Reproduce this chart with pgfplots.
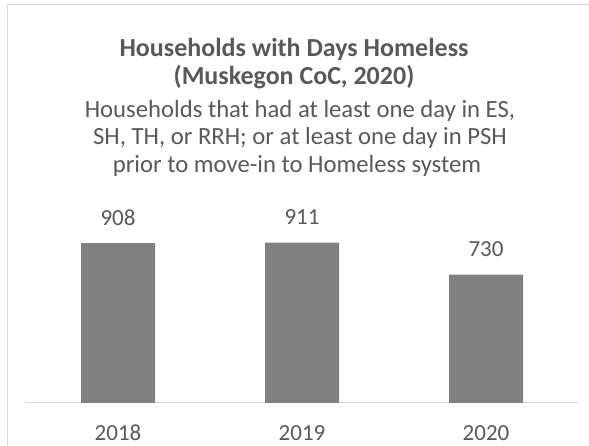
\documentclass[border=0pt]{standalone}
\usepackage{fontspec}
\setmainfont{Carlito}
\usepackage{pgfplots}
\pgfplotsset{compat=1.18}
\definecolor{txt}{HTML}{595959}
\definecolor{bar}{HTML}{808080}
\definecolor{grid}{HTML}{D9D9D9}
\begin{document}
\begin{tikzpicture}[x=1bp,y=1bp]
\path[use as bounding box] (0,0) rectangle (589,446);
\draw[grid, line width=1bp] (7,0) -- (7,441) -- (589,441);
\node[anchor=base, text=txt, font=\fontsize{26bp}{30bp}\selectfont\bfseries] at (294,389) {Households with Days Homeless};
\node[anchor=base, text=txt, font=\fontsize{26bp}{30bp}\selectfont\bfseries] at (294,361) {(Muskegon CoC, 2020)};
\node[anchor=base, text=txt, font=\fontsize{24.7bp}{29bp}\selectfont] at (300,328) {Households that had at least one day in ES,};
\node[anchor=base, text=txt, font=\fontsize{24.7bp}{29bp}\selectfont] at (300,301) {SH, TH, or RRH; or at least one day in PSH};
\node[anchor=base, text=txt, font=\fontsize{24.7bp}{29bp}\selectfont] at (297,273) {prior to move-in to Homeless system};
\begin{axis}[
  at={(26bp,43bp)}, anchor=south west,
  scale only axis, width=552bp, height=176bp,
  xmin=-0.5, xmax=2.5, ymin=0, ymax=1000,
  axis x line*=bottom, axis y line=none,
  x axis line style={grid, line width=1bp, -},
  xtick={0,1,2}, xticklabels={2018,2019,2020},
  major tick length=0pt,
  /pgf/number format/assume math mode=true,
  xticklabel style={anchor=base, yshift=-38bp, text=txt, font=\fontsize{23bp}{27bp}\selectfont},
  ytick=\empty,
  clip=false,
]
\addplot[ybar, bar width=74bp, fill=bar, draw=none,
  nodes near coords,
  every node near coord/.append style={anchor=base, yshift=18bp, text=txt, font=\fontsize{23bp}{27bp}\selectfont}]
  coordinates {(0,908) (1,911) (2,730)};
\end{axis}
\end{tikzpicture}
\end{document}
